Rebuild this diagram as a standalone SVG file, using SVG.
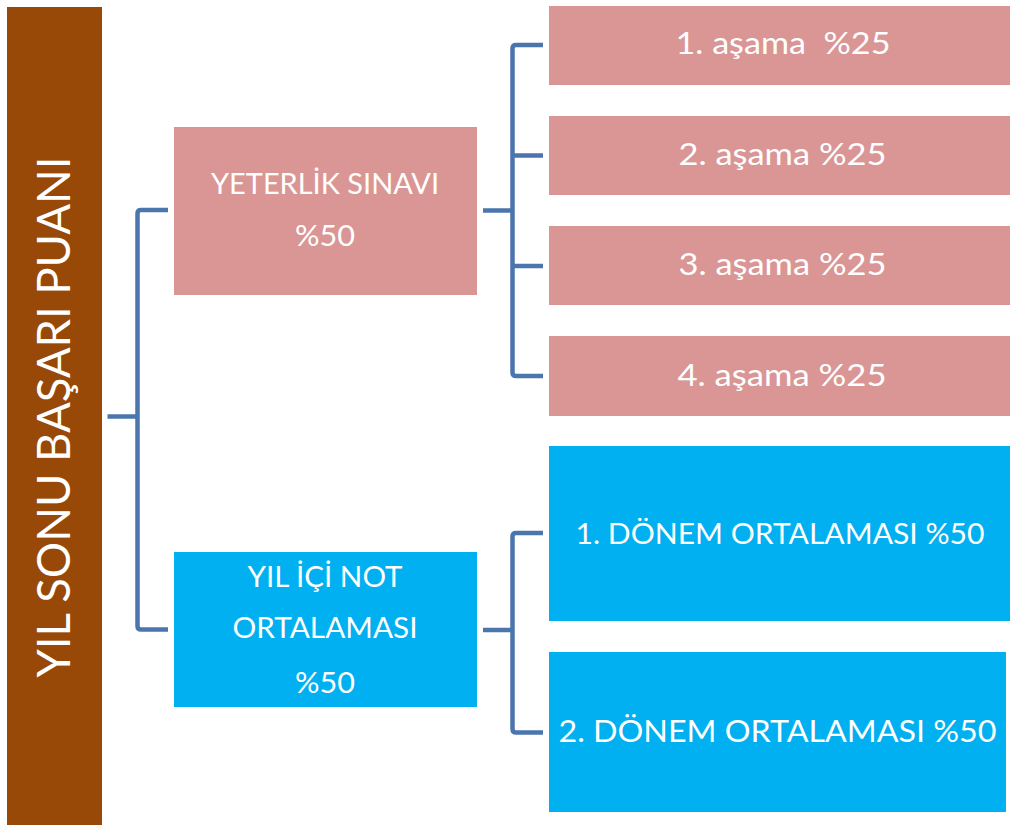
<svg xmlns="http://www.w3.org/2000/svg" width="1010" height="825" viewBox="0 0 1010 825">
<style>
.t{font-family:Lato,"Noto Sans","Liberation Sans",sans-serif;fill:#ffffff;text-anchor:middle;white-space:pre}
.pink{fill:#d99694}
.blue{fill:#00b0f0}
.conn{fill:none;stroke:#4a76ad;stroke-width:4.5;stroke-linejoin:round}
</style>
<rect width="1010" height="825" fill="#ffffff"/>
<g id="root">
<rect x="7" y="7" width="95" height="818" fill="#984807"/>
<text class="t" font-size="46" transform="translate(70,417) rotate(-90)" textLength="521" lengthAdjust="spacingAndGlyphs">YIL SONU BAŞARI PUANI</text>
</g>
<g id="connectors">
<path class="conn" d="M168,210 H141 Q137.5,210 137.5,213.5 V626 Q137.5,629.5 141,629.5 H168"/>
<path class="conn" d="M107.5,416.5 H137.5"/>
<path class="conn" d="M543,45 H516 Q512.5,45 512.5,48.5 V372.5 Q512.5,376 516,376 H543"/>
<path class="conn" d="M512.5,155.5 H543 M512.5,266 H543 M483,210.5 H512.5"/>
<path class="conn" d="M543,533 H516 Q512.5,533 512.5,536.5 V729 Q512.5,732.5 516,732.5 H543"/>
<path class="conn" d="M483,630 H512.5"/>
</g>
<g id="yeterlik">
<rect class="pink" x="174" y="127" width="303" height="168"/>
<text class="t" font-size="29" x="325" y="194" textLength="228" lengthAdjust="spacingAndGlyphs">YETERLİK SINAVI</text>
<text class="t" font-size="29" x="325" y="246" textLength="60" lengthAdjust="spacingAndGlyphs">%50</text>
</g>
<g id="yilici">
<rect class="blue" x="174" y="552" width="303" height="155"/>
<text class="t" font-size="29" x="325" y="587" textLength="155" lengthAdjust="spacingAndGlyphs">YIL İÇİ NOT</text>
<text class="t" font-size="29" x="325" y="638" textLength="185" lengthAdjust="spacingAndGlyphs">ORTALAMASI</text>
<text class="t" font-size="29" x="325" y="693" textLength="60" lengthAdjust="spacingAndGlyphs">%50</text>
</g>
<g id="asama1">
<rect class="pink" x="549" y="6" width="461" height="79"/>
<text class="t" font-size="30" x="783" y="54" textLength="215" lengthAdjust="spacingAndGlyphs">1. aşama  %25</text>
</g>
<g id="asama2">
<rect class="pink" x="549" y="116" width="461" height="79"/>
<text class="t" font-size="30" x="782.5" y="165" textLength="208" lengthAdjust="spacingAndGlyphs">2. aşama %25</text>
</g>
<g id="asama3">
<rect class="pink" x="549" y="226" width="461" height="79"/>
<text class="t" font-size="30" x="782.5" y="275" textLength="208" lengthAdjust="spacingAndGlyphs">3. aşama %25</text>
</g>
<g id="asama4">
<rect class="pink" x="549" y="336" width="461" height="80"/>
<text class="t" font-size="30" x="782" y="386" textLength="209" lengthAdjust="spacingAndGlyphs">4. aşama %25</text>
</g>
<g id="donem1">
<rect class="blue" x="549" y="446" width="461" height="175"/>
<text class="t" font-size="29" x="780" y="544" textLength="409" lengthAdjust="spacingAndGlyphs">1. DÖNEM ORTALAMASI %50</text>
</g>
<g id="donem2">
<rect class="blue" x="549" y="652" width="457" height="160"/>
<text class="t" font-size="30" x="777.5" y="742" textLength="438" lengthAdjust="spacingAndGlyphs">2. DÖNEM ORTALAMASI %50</text>
</g>
</svg>
